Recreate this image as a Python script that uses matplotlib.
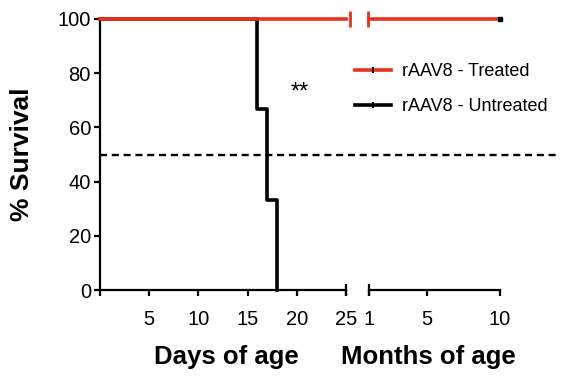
import matplotlib
matplotlib.use("Agg")
import matplotlib.pyplot as plt
from matplotlib.lines import Line2D

plt.rcParams["font.family"] = ["Liberation Sans", "DejaVu Sans"]

# Kaplan-Meier style survival data
untreated_days = [0, 16, 17, 18]
untreated_surv = [100, 66.7, 33.3, 0]
treated_days = [0, 25]
treated_surv = [100, 100]
treated_months = [1, 10]
treated_months_surv = [100, 100]

day_ticks = [0, 5, 10, 15, 20, 25]
day_labels = ["", "5", "10", "15", "20", "25"]
month_ticks = [1, 5, 10]
month_labels = ["1", "5", "10"]
y_ticks = [0, 20, 40, 60, 80, 100]

RED = "#e8321e"
W, H = 564, 378

fig = plt.figure(figsize=(W / 100, H / 100), dpi=100)
axL = fig.add_axes([100 / W, 88 / H, 246 / W, 271 / H])
axR = fig.add_axes([369 / W, 88 / H, 131 / W, 271 / H])

for ax in (axL, axR):
    ax.set_ylim(0, 100)
    for s in ("top", "right"):
        ax.spines[s].set_visible(False)
    ax.spines["bottom"].set_linewidth(1.6)
    ax.spines["left"].set_linewidth(1.6)
    ax.tick_params(width=1.6, length=4.5, labelsize=14.5, colors="black")
    ax.tick_params(axis="x", pad=10)
    ax.patch.set_alpha(0)

axL.set_xlim(0, 25)
axL.set_xticks(day_ticks, day_labels)
axL.set_yticks(y_ticks)
axL.tick_params(axis="y", pad=2)

axR.set_xlim(1, 10)
axR.set_xticks(month_ticks, month_labels)
axR.spines["left"].set_visible(False)
axR.set_yticks([])

# end caps of the broken axis
axL.plot([25], [0], marker="|", color="black", markersize=8, mew=1.6, clip_on=False)
axR.plot([1], [0], marker="|", color="black", markersize=8, mew=1.6, clip_on=False)

# 50% reference line
axL.plot([0, 46.3], [50, 50], color="black", lw=1.7, ls=(0, (3, 2)), clip_on=False)

# curves
axL.step(untreated_days, untreated_surv, where="post", color="black", lw=2.6,
         clip_on=False, zorder=3)
axL.plot(treated_days, treated_surv, color=RED, lw=2.6, clip_on=False, zorder=4)
axL.plot([25.4], [100], marker="|", color=RED, markersize=11, mew=2, clip_on=False)
axR.plot(treated_months, treated_months_surv, color=RED, lw=2.6, clip_on=False, zorder=4)
axR.plot([0.9], [100], marker="|", color=RED, markersize=11, mew=2, clip_on=False)
axR.plot([10], [100], marker="s", color="black", markersize=2.5, clip_on=False, zorder=5)

axL.text(20.3, 73, "**", fontsize=17, ha="center", va="center")

handles = [
    Line2D([], [], color=RED, lw=2.6, marker="|", markersize=4, mec="black", mew=1.5),
    Line2D([], [], color="black", lw=2.6, marker="|", markersize=4, mec="black", mew=1.5),
]
fig.legend(handles, ["rAAV8 - Treated", "rAAV8 - Untreated"], loc="center left",
           bbox_to_anchor=(339 / W, 1 - 89 / H), frameon=False, fontsize=13,
           handlelength=2.0, handletextpad=0.6, labelspacing=1.0)

fig.text(22 / W, 1 - 154 / H, "% Survival", rotation=90, fontsize=19,
         fontweight="bold", ha="center", va="center")
fig.text(226 / W, 1 - 357 / H, "Days of age", fontsize=18.5, fontweight="bold",
         ha="center", va="center")
fig.text(428 / W, 1 - 357 / H, "Months of age", fontsize=18.5, fontweight="bold",
         ha="center", va="center")

fig.savefig("out.png", dpi=100)
